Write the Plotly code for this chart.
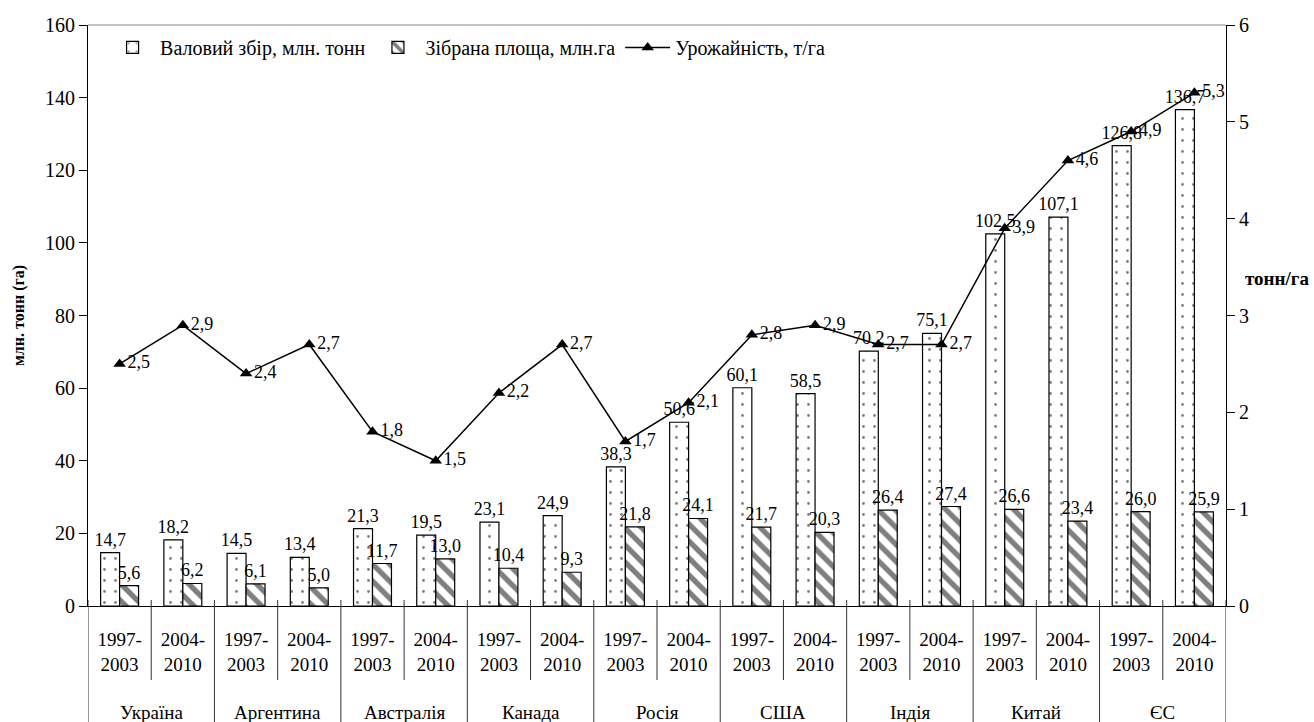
import plotly.graph_objects as go

countries = ["Україна", "Аргентина", "Австралія", "Канада", "Росія",
             "США", "Індія", "Китай", "ЄС"]
periods = ["1997-<br>2003", "2004-<br>2010"]

gross = [14.7, 18.2, 14.5, 13.4, 21.3, 19.5, 23.1, 24.9, 38.3,
         50.6, 60.1, 58.5, 70.2, 75.1, 102.5, 107.1, 126.8, 136.7]
area = [5.6, 6.2, 6.1, 5.0, 11.7, 13.0, 10.4, 9.3, 21.8,
        24.1, 21.7, 20.3, 26.4, 27.4, 26.6, 23.4, 26.0, 25.9]
yields = [2.5, 2.9, 2.4, 2.7, 1.8, 1.5, 2.2, 2.7, 1.7,
          2.1, 2.8, 2.9, 2.7, 2.7, 3.9, 4.6, 4.9, 5.3]

FONT = "Liberation Serif, Times New Roman, DejaVu Serif, serif"
n_per = len(periods)
xs = list(range(len(countries) * n_per))
tick_text = [p for _ in countries for p in periods]

W, H = 1314, 722
M = dict(l=88, r=88, t=25, b=116)
PLOT_H = H - M["t"] - M["b"]  # plot area height in px, for paper-coord offsets

fig = go.Figure()
fig.add_trace(go.Bar(
    x=xs, y=gross, name="Валовий збір, млн. тонн",
    marker=dict(color="white", line=dict(color="black", width=1.2),
                pattern=dict(shape=".", fgcolor="black", bgcolor="white",
                             size=11, solidity=0.05)),
    texttemplate="%{y:.1f}", textposition="outside", constraintext="none",
    cliponaxis=False, textfont=dict(size=18, color="black", family=FONT)))
fig.add_trace(go.Bar(
    x=xs, y=area, name="Зібрана площа, млн.га",
    marker=dict(color="white", line=dict(color="black", width=1.2),
                pattern=dict(shape="\\", fgcolor="black", bgcolor="white",
                             size=12, solidity=0.45)),
    texttemplate="%{y:.1f}", textposition="outside", constraintext="none",
    cliponaxis=False, textfont=dict(size=18, color="black", family=FONT)))
fig.add_trace(go.Scatter(
    x=xs, y=yields, name="Урожайність, т/га", yaxis="y2",
    mode="lines+markers+text", line=dict(color="black", width=1.5),
    marker=dict(symbol="triangle-up", size=11, color="black"),
    texttemplate="%{y:.1f}", textposition="middle right", cliponaxis=False,
    textfont=dict(size=18, color="black", family=FONT)))

# top border of the plot area
fig.add_shape(type="line", xref="paper", yref="paper", x0=0, x1=1, y0=1, y1=1,
              line=dict(color="#888", width=1))

# category separators below the axis: short between periods, long between countries
for i in range(len(xs) + 1):
    long_ = i % n_per == 0
    fig.add_shape(type="line", xref="x", yref="paper", x0=i - 0.5, x1=i - 0.5,
                  y0=6 / PLOT_H, y1=-(116 if long_ else 74) / PLOT_H,
                  line=dict(color="#333", width=1))

for k, name in enumerate(countries):
    fig.add_annotation(text=name, xref="x", yref="paper",
                       x=k * n_per + (n_per - 1) / 2, y=-106 / PLOT_H,
                       showarrow=False, yanchor="middle",
                       font=dict(size=19, color="black", family=FONT))

fig.add_annotation(text="<b>тонн/га</b>", xref="paper", yref="paper",
                   x=1.045, y=0.563, xanchor="center", showarrow=False,
                   font=dict(size=19, color="black", family=FONT))

fig.update_layout(
    width=W, height=H, separators=", ", margin=M,
    plot_bgcolor="white", paper_bgcolor="white",
    font=dict(family=FONT, size=18, color="black"),
    barmode="group", bargap=0.4, bargroupgap=0,
    legend=dict(orientation="h", x=0.015, y=0.995, xanchor="left", yanchor="top",
                font=dict(size=20, family=FONT), bgcolor="rgba(0,0,0,0)",
                itemwidth=45, tracegroupgap=0),
    xaxis=dict(range=[-0.5, len(xs) - 0.5], tickvals=xs, ticktext=tick_text,
               automargin=False, showline=True, linecolor="black",
               ticks="", ticklabelstandoff=16, showgrid=False, zeroline=False,
               tickfont=dict(size=19, family=FONT)),
    yaxis=dict(range=[0, 160], dtick=20, showline=True, linecolor="black",
               automargin=False,
               ticks="outside", ticklen=8, tickcolor="black", showgrid=False,
               zeroline=False, tickfont=dict(size=20, family=FONT),
               title=dict(text="<b>млн. тонн (га)</b>",
                          font=dict(size=16, family=FONT), standoff=16)),
    yaxis2=dict(range=[0, 6], dtick=1, overlaying="y", side="right",
                automargin=False,
                showline=True, linecolor="black", ticks="outside", ticklen=8,
                tickcolor="black", showgrid=False, zeroline=False,
                tickfont=dict(size=20, family=FONT)),
)

# drop the default 8px page margin so the figure fills the window exactly
fig.write_html("out.html", config={"displayModeBar": False},
               post_script="document.body.style.margin = '0';")
